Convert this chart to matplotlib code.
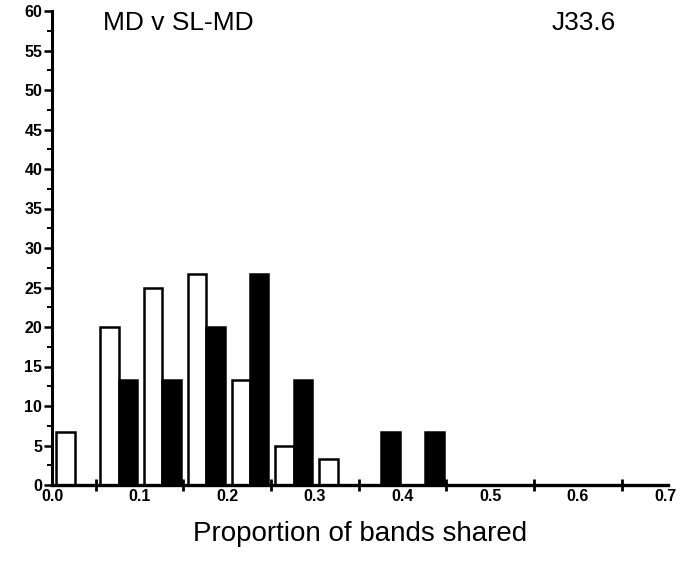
import numpy as np
import matplotlib.pyplot as plt
from matplotlib.ticker import MultipleLocator

plt.rcParams['font.family'] = ['Liberation Sans', 'DejaVu Sans']

### data (percent of comparisons per bin)
bin_starts = [0.00, 0.05, 0.10, 0.15, 0.20, 0.25, 0.30, 0.35, 0.40]
open_pct = [6.7, 20.0, 25.0, 26.7, 13.3, 5.0, 3.3, 0.0, 0.0]
filled_pct = [0.0, 13.3, 13.3, 20.0, 26.7, 13.3, 0.0, 6.7, 6.7]
x_labels = ['0.0', '0.1', '0.2', '0.3', '0.4', '0.5', '0.6', '0.7']
###---------------------------------------------------------------------

fig = plt.figure(figsize=(6.83, 5.61), dpi=100)
ax = fig.add_axes([52/683, 1 - 485/561, (668 - 52)/683, (485 - 11)/561])

starts = np.array(bin_starts)
bw = 0.021
ax.bar(starts + 0.005, open_pct, width=bw, align='edge', color='white',
       edgecolor='black', linewidth=1.8)
ax.bar(starts + 0.005 + bw, filled_pct, width=bw, align='edge', color='black',
       edgecolor='black', linewidth=1.8)

ax.set_xlim(0, 0.703)
ax.set_ylim(0, 60)

for s in ['top', 'right']:
    ax.spines[s].set_visible(False)
ax.spines['left'].set_linewidth(2.2)
ax.spines['bottom'].set_linewidth(2.4)

# y axis: labelled every 5, minor ticks in between
ax.yaxis.set_major_locator(MultipleLocator(5))
ax.yaxis.set_minor_locator(MultipleLocator(2.5))
ax.tick_params(axis='y', which='major', direction='out', length=6, width=1.8,
               labelsize=11.5, pad=1)
ax.tick_params(axis='y', which='minor', direction='out', length=3.5, width=1.4)
for lb in ax.get_yticklabels():
    lb.set_fontweight('bold')

# x axis: labels at 0.1 steps, tick marks at bin edges 0.05, 0.15, ...
ax.set_xticks(np.arange(0, 0.71, 0.1))
ax.set_xticklabels(x_labels, fontweight='bold', fontsize=11.5)
ax.tick_params(axis='x', which='major', length=0, pad=3)
ax.set_xticks(np.arange(0.05, 0.7, 0.1), minor=True)
ax.tick_params(axis='x', which='minor', direction='inout', length=9, width=2)

ax.set_xlabel('Proportion of bands shared', fontsize=20, labelpad=12)

fig.text(103/683, 1 - 23/561, 'MD v SL-MD', fontsize=19, va='center')
fig.text(552/683, 1 - 23/561, 'J33.6', fontsize=19, va='center')

plt.savefig('out.png', dpi=100)
